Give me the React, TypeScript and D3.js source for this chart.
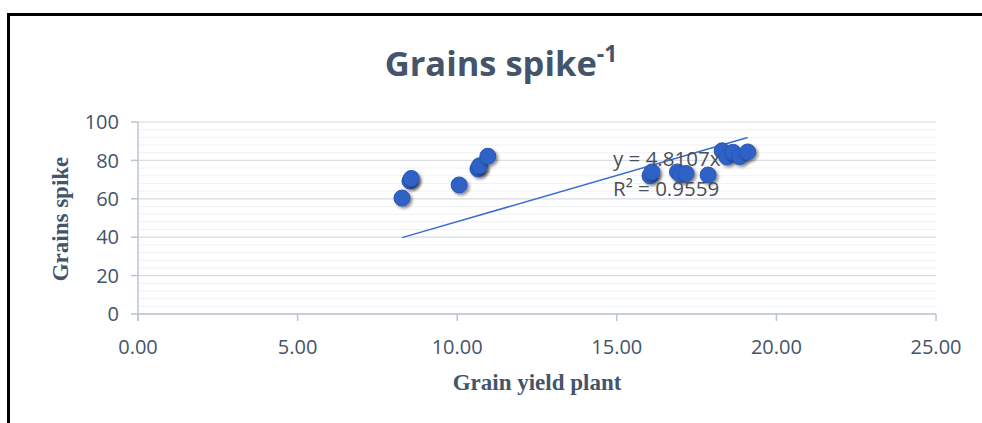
import React from "react";
import * as d3 from "d3";

const xValues = [8.27, 8.52, 8.56, 10.06, 10.65, 10.7, 10.96, 16.04, 16.1, 16.9, 17.0, 17.17, 17.86, 18.3, 18.45, 18.64, 18.85, 19.1];
const yValues = [60.4, 69.3, 70.6, 67.2, 75.6, 77.2, 82.2, 72.0, 74.0, 74.0, 72.6, 73.2, 72.4, 85.0, 81.8, 84.2, 82.0, 84.4];
const xTicks = [0, 5, 10, 15, 20, 25];
const yTicks = [0, 20, 40, 60, 80, 100];
const slope = 4.8107;
const r2 = 0.9559;

const W = 982;
const H = 423;
const left = 138;
const right = 936;
const top = 122;
const bottom = 314;

export default function App() {
  const x = d3.scaleLinear().domain([0, 25]).range([left, right]);
  const y = d3.scaleLinear().domain([0, 100]).range([bottom, top]);
  const minor = d3.range(0, 100.001, 4);
  const xMin = d3.min(xValues) as number;
  const xMax = d3.max(xValues) as number;
  const textColor = "#44546a";
  const axisColor = "#bcc4d2";
  const sans = "'Open Sans', Lato, sans-serif";
  return (
    <svg width={W} height={H} style={{ position: "absolute", left: 0, top: 0, background: "#fff" }}>
      <defs>
        <filter id="sh" x="-50%" y="-50%" width="200%" height="200%">
          <feDropShadow dx="2" dy="2" stdDeviation="1.5" floodColor="#000" floodOpacity="0.45" />
        </filter>
      </defs>
      <rect x={8.5} y={14.5} width={W + 20} height={H + 20} fill="#fff" stroke="#000" strokeWidth={3} />
      {minor.map((v) => (
        <line key={"m" + v} x1={left} x2={right} y1={y(v)} y2={y(v)} stroke="#eff1f4" strokeWidth={1} />
      ))}
      {yTicks.map((v) => (
        <line key={"g" + v} x1={left} x2={right} y1={y(v)} y2={y(v)} stroke="#d9dee5" strokeWidth={1.2} />
      ))}
      <line x1={left} x2={left} y1={top} y2={bottom + 7} stroke={axisColor} strokeWidth={1.5} />
      <line x1={left} x2={right} y1={bottom} y2={bottom} stroke={axisColor} strokeWidth={1.5} />
      {yTicks.map((v) => (
        <line key={"yt" + v} x1={left - 7} x2={left} y1={y(v)} y2={y(v)} stroke={axisColor} strokeWidth={1.5} />
      ))}
      {xTicks.map((v) => (
        <line key={"xt" + v} x1={x(v)} x2={x(v)} y1={bottom} y2={bottom + 7} stroke={axisColor} strokeWidth={1.5} />
      ))}
      {yTicks.map((v) => (
        <text key={"yl" + v} x={left - 19} y={y(v)} dy="0.36em" textAnchor="end" fontFamily={sans} fontSize={20} fill={textColor}>
          {v}
        </text>
      ))}
      {xTicks.map((v) => (
        <text key={"xl" + v} x={x(v)} y={354} textAnchor="middle" fontFamily={sans} fontSize={20} fill={textColor}>
          {v.toFixed(2)}
        </text>
      ))}
      <line x1={x(xMin)} y1={y(slope * xMin)} x2={x(xMax)} y2={y(slope * xMax)} stroke="#3a6bd1" strokeWidth={1.5} />
      {xValues.map((v, i) => (
        <circle key={"p" + i} cx={x(v)} cy={y(yValues[i])} r={8} fill="#2f62c6" stroke="#2a57b5" strokeWidth={1} filter="url(#sh)" />
      ))}
      <text x={613} y={166} fontFamily={sans} fontSize={20.5} fill="#4a4f57">
        {"y = " + slope + "x"}
      </text>
      <text x={613} y={196} fontFamily={sans} fontSize={20.5} fill="#4a4f57">
        {"R² = " + r2}
      </text>
      <text x={501} y={76} textAnchor="middle" fontFamily={sans} fontWeight="bold" fontSize={34.5} fill={textColor}>
        Grains spike
        <tspan fontSize={23} dy={-14}>-1</tspan>
      </text>
      <text transform="translate(68,219) rotate(-90)" textAnchor="middle" fontFamily="'Liberation Serif', 'Times New Roman', serif" fontWeight="bold" fontSize={23} fill={textColor}>
        Grains spike
      </text>
      <text x={537} y={390} textAnchor="middle" fontFamily="'Liberation Serif', 'Times New Roman', serif" fontWeight="bold" fontSize={23} fill={textColor}>
        Grain yield plant
      </text>
    </svg>
  );
}
